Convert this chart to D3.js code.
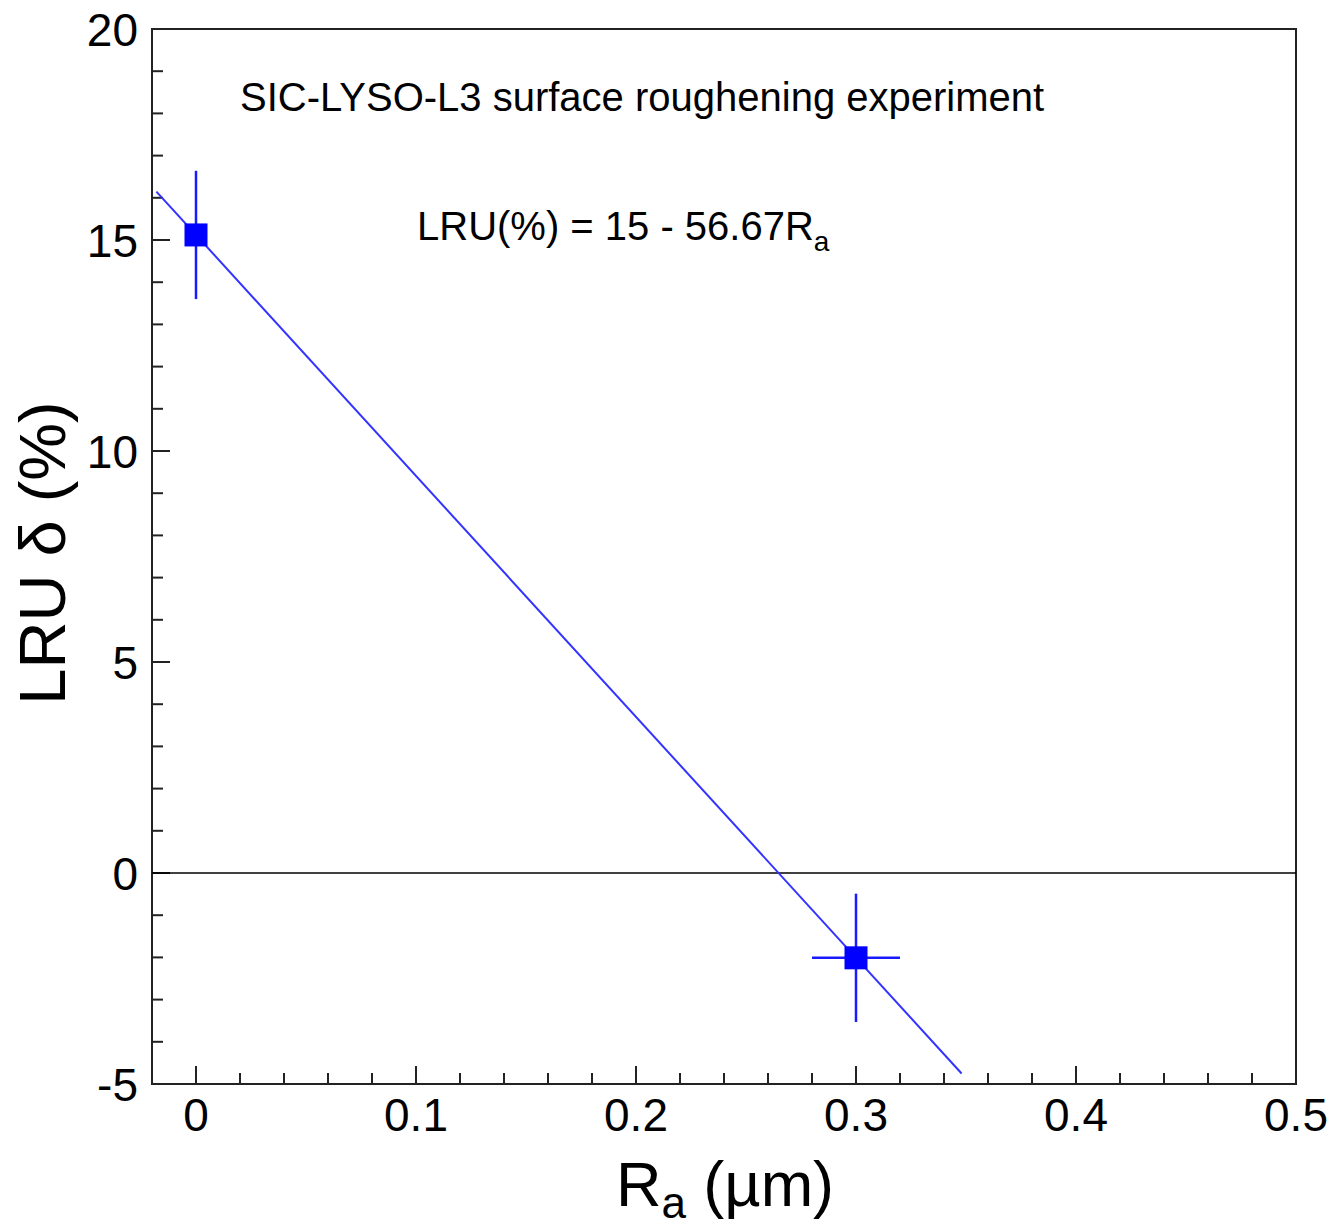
<!DOCTYPE html>
<html>
<head>
<meta charset="utf-8">
<script src="https://cdn.jsdelivr.net/npm/d3@7"></script>
<style>
  body { margin: 0; background: #fff; }
  text { font-family: "Liberation Sans", Arial, sans-serif; fill: #000; }
</style>
</head>
<body>
<svg id="chart" width="1332" height="1226"></svg>
<script>
// data
var pointX = [0, 0.3];
var pointY = [15.12, -2.01];
var errX = [0, 0.02];
var errY = [1.52, 1.52];
var fitX = [-0.018, 0.348];      // extent of the drawn fit line
var xTicks = [0, 0.1, 0.2, 0.3, 0.4, 0.5];
var yTicks = [-5, 0, 5, 10, 15, 20];

function drawChart() {
    var svg = d3.select("#chart");
    var m = { left: 152, right: 1296, top: 29, bottom: 1084 };

    var x = d3.scaleLinear().domain([-0.02, 0.5]).range([m.left, m.right]);
    var y = d3.scaleLinear().domain([-5, 20]).range([m.bottom, m.top]);

    // fit line from the two points
    var slope = (pointY[1] - pointY[0]) / (pointX[1] - pointX[0]);
    var fit = function (v) { return pointY[0] + slope * (v - pointX[0]); };

    // frame
    svg.append("rect")
        .attr("x", m.left).attr("y", m.top)
        .attr("width", m.right - m.left).attr("height", m.bottom - m.top)
        .attr("fill", "none").attr("stroke", "#222").attr("stroke-width", 2);

    // minor + major ticks, pointing inward
    var xMinor = d3.range(0, 0.5001, 0.02);
    svg.append("g").selectAll("line")
        .data(xMinor)
        .enter().append("line")
        .attr("x1", function (d) { return x(d); })
        .attr("x2", function (d) { return x(d); })
        .attr("y1", m.bottom)
        .attr("y2", function (d) {
            return Math.abs(d * 10 - Math.round(d * 10)) < 1e-6 ? m.bottom - 18 : m.bottom - 11;
        })
        .attr("stroke", "#222").attr("stroke-width", 2);

    var yMinor = d3.range(-5, 20.001, 1);
    svg.append("g").selectAll("line")
        .data(yMinor)
        .enter().append("line")
        .attr("y1", function (d) { return y(d); })
        .attr("y2", function (d) { return y(d); })
        .attr("x1", m.left)
        .attr("x2", function (d) { return d % 5 === 0 ? m.left + 18 : m.left + 11; })
        .attr("stroke", "#222").attr("stroke-width", 2);

    // tick labels
    svg.append("g").selectAll("text")
        .data(xTicks)
        .enter().append("text")
        .attr("x", function (d) { return x(d); })
        .attr("y", m.bottom + 47)
        .attr("text-anchor", "middle")
        .attr("font-size", "46px")
        .text(function (d) { return d3.format("")(d); });

    svg.append("g").selectAll("text")
        .data(yTicks)
        .enter().append("text")
        .attr("x", m.left - 14)
        .attr("y", function (d) { return y(d); })
        .attr("dy", "0.36em")
        .attr("text-anchor", "end")
        .attr("font-size", "46px")
        .text(function (d) { return d; });

    // zero line
    svg.append("line")
        .attr("x1", m.left).attr("x2", m.right)
        .attr("y1", y(0)).attr("y2", y(0))
        .attr("stroke", "#000").attr("stroke-width", 1.5);

    // fit line
    svg.append("line")
        .attr("x1", x(fitX[0])).attr("y1", y(fit(fitX[0])))
        .attr("x2", x(fitX[1])).attr("y2", y(fit(fitX[1])))
        .attr("stroke", "#3333ff").attr("stroke-width", 2);

    // error bars and markers
    var pts = pointX.map(function (d, i) {
        return { x: d, y: pointY[i], ex: errX[i], ey: errY[i] };
    });

    var g = svg.append("g");
    pts.forEach(function (p) {
        g.append("line")
            .attr("x1", x(p.x)).attr("x2", x(p.x))
            .attr("y1", y(p.y - p.ey)).attr("y2", y(p.y + p.ey))
            .attr("stroke", "#1a1aff").attr("stroke-width", 2.5);
        if (p.ex > 0) {
            g.append("line")
                .attr("x1", x(p.x - p.ex)).attr("x2", x(p.x + p.ex))
                .attr("y1", y(p.y)).attr("y2", y(p.y))
                .attr("stroke", "#1a1aff").attr("stroke-width", 2.5);
        }
        g.append("rect")
            .attr("x", x(p.x) - 11.5).attr("y", y(p.y) - 11.5)
            .attr("width", 23).attr("height", 23)
            .attr("fill", "#0000ff");
    });

    // annotations
    svg.append("text")
        .attr("x", 240).attr("y", 111)
        .attr("font-size", "40px")
        .text("SIC-LYSO-L3 surface roughening experiment");

    var eq = svg.append("text")
        .attr("x", 417).attr("y", 240)
        .attr("font-size", "40px");
    eq.append("tspan").text("LRU(%) = 15 - 56.67R");
    eq.append("tspan").attr("dy", 11).attr("font-size", "28px").text("a");

    // axis titles
    var xt = svg.append("text")
        .attr("x", 725).attr("y", 1206)
        .attr("text-anchor", "middle")
        .attr("font-size", "63px");
    xt.append("tspan").text("R");
    xt.append("tspan").attr("dy", 12).attr("font-size", "44px").text("a");
    xt.append("tspan").attr("dy", -12).text(" (\u00b5m)");

    svg.append("text")
        .attr("transform", "translate(65,553) rotate(-90)")
        .attr("text-anchor", "middle")
        .attr("font-size", "65px")
        .text("LRU \u03b4 (%)");
}

drawChart();
</script>
</body>
</html>
